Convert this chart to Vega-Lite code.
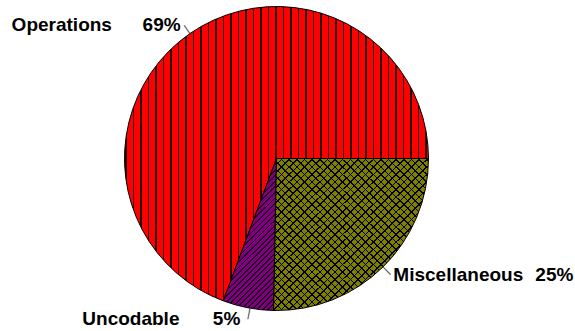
{"$schema":"https://vega.github.io/schema/vega-lite/v6.json","width":553,"height":317,"autosize":"none","padding":{"left":0,"top":0,"right":22,"bottom":14},"background":"white",
"data":{"values":[{"name":"Operations","value":69.3,"pct":"69%"},{"name":"Uncodable","value":5.4,"pct":"5%"},{"name":"Miscellaneous","value":25.3,"pct":"25%"}]},
"layer":[
{"mark":{"type":"arc","outerRadius":152,"stroke":"#000","strokeWidth":1},
"encoding":{"theta":{"field":"value","type":"quantitative","stack":true,"scale":{"range":[3.1604,9.4436]}},"order":{"field":"name","type":"nominal","sort":"descending"},"detail":{"field":"name"},
"fill":{"condition":[{"test":"datum.name==='Operations'","value":{"gradient":"linear","x1":0,"y1":0,"x2":1,"y2":0,"stops":[
{"offset":0.0018,"color":"#f00"},{"offset":0.0018,"color":"#200"},{"offset":0.0068,"color":"#200"},{"offset":0.0068,"color":"#f00"},
{"offset":0.0265,"color":"#f00"},{"offset":0.0265,"color":"#200"},{"offset":0.0315,"color":"#200"},{"offset":0.0315,"color":"#f00"},
{"offset":0.0511,"color":"#f00"},{"offset":0.0511,"color":"#200"},{"offset":0.0561,"color":"#200"},{"offset":0.0561,"color":"#f00"},
{"offset":0.0758,"color":"#f00"},{"offset":0.0758,"color":"#200"},{"offset":0.0808,"color":"#200"},{"offset":0.0808,"color":"#f00"},
{"offset":0.1005,"color":"#f00"},{"offset":0.1005,"color":"#200"},{"offset":0.1055,"color":"#200"},{"offset":0.1055,"color":"#f00"},
{"offset":0.1251,"color":"#f00"},{"offset":0.1251,"color":"#200"},{"offset":0.1301,"color":"#200"},{"offset":0.1301,"color":"#f00"},
{"offset":0.1498,"color":"#f00"},{"offset":0.1498,"color":"#200"},{"offset":0.1548,"color":"#200"},{"offset":0.1548,"color":"#f00"},
{"offset":0.1745,"color":"#f00"},{"offset":0.1745,"color":"#200"},{"offset":0.1795,"color":"#200"},{"offset":0.1795,"color":"#f00"},
{"offset":0.1991,"color":"#f00"},{"offset":0.1991,"color":"#200"},{"offset":0.2041,"color":"#200"},{"offset":0.2041,"color":"#f00"},
{"offset":0.2238,"color":"#f00"},{"offset":0.2238,"color":"#200"},{"offset":0.2288,"color":"#200"},{"offset":0.2288,"color":"#f00"},
{"offset":0.2485,"color":"#f00"},{"offset":0.2485,"color":"#200"},{"offset":0.2535,"color":"#200"},{"offset":0.2535,"color":"#f00"},
{"offset":0.2732,"color":"#f00"},{"offset":0.2732,"color":"#200"},{"offset":0.2782,"color":"#200"},{"offset":0.2782,"color":"#f00"},
{"offset":0.2978,"color":"#f00"},{"offset":0.2978,"color":"#200"},{"offset":0.3028,"color":"#200"},{"offset":0.3028,"color":"#f00"},
{"offset":0.3225,"color":"#f00"},{"offset":0.3225,"color":"#200"},{"offset":0.3275,"color":"#200"},{"offset":0.3275,"color":"#f00"},
{"offset":0.3472,"color":"#f00"},{"offset":0.3472,"color":"#200"},{"offset":0.3522,"color":"#200"},{"offset":0.3522,"color":"#f00"},
{"offset":0.3718,"color":"#f00"},{"offset":0.3718,"color":"#200"},{"offset":0.3768,"color":"#200"},{"offset":0.3768,"color":"#f00"},
{"offset":0.3965,"color":"#f00"},{"offset":0.3965,"color":"#200"},{"offset":0.4015,"color":"#200"},{"offset":0.4015,"color":"#f00"},
{"offset":0.4212,"color":"#f00"},{"offset":0.4212,"color":"#200"},{"offset":0.4262,"color":"#200"},{"offset":0.4262,"color":"#f00"},
{"offset":0.4458,"color":"#f00"},{"offset":0.4458,"color":"#200"},{"offset":0.4508,"color":"#200"},{"offset":0.4508,"color":"#f00"},
{"offset":0.4705,"color":"#f00"},{"offset":0.4705,"color":"#200"},{"offset":0.4755,"color":"#200"},{"offset":0.4755,"color":"#f00"},
{"offset":0.4952,"color":"#f00"},{"offset":0.4952,"color":"#200"},{"offset":0.5002,"color":"#200"},{"offset":0.5002,"color":"#f00"},
{"offset":0.5199,"color":"#f00"},{"offset":0.5199,"color":"#200"},{"offset":0.5249,"color":"#200"},{"offset":0.5249,"color":"#f00"},
{"offset":0.5445,"color":"#f00"},{"offset":0.5445,"color":"#200"},{"offset":0.5495,"color":"#200"},{"offset":0.5495,"color":"#f00"},
{"offset":0.5692,"color":"#f00"},{"offset":0.5692,"color":"#200"},{"offset":0.5742,"color":"#200"},{"offset":0.5742,"color":"#f00"},
{"offset":0.5939,"color":"#f00"},{"offset":0.5939,"color":"#200"},{"offset":0.5989,"color":"#200"},{"offset":0.5989,"color":"#f00"},
{"offset":0.6185,"color":"#f00"},{"offset":0.6185,"color":"#200"},{"offset":0.6235,"color":"#200"},{"offset":0.6235,"color":"#f00"},
{"offset":0.6432,"color":"#f00"},{"offset":0.6432,"color":"#200"},{"offset":0.6482,"color":"#200"},{"offset":0.6482,"color":"#f00"},
{"offset":0.6679,"color":"#f00"},{"offset":0.6679,"color":"#200"},{"offset":0.6729,"color":"#200"},{"offset":0.6729,"color":"#f00"},
{"offset":0.6926,"color":"#f00"},{"offset":0.6926,"color":"#200"},{"offset":0.6976,"color":"#200"},{"offset":0.6976,"color":"#f00"},
{"offset":0.7172,"color":"#f00"},{"offset":0.7172,"color":"#200"},{"offset":0.7222,"color":"#200"},{"offset":0.7222,"color":"#f00"},
{"offset":0.7419,"color":"#f00"},{"offset":0.7419,"color":"#200"},{"offset":0.7469,"color":"#200"},{"offset":0.7469,"color":"#f00"},
{"offset":0.7666,"color":"#f00"},{"offset":0.7666,"color":"#200"},{"offset":0.7716,"color":"#200"},{"offset":0.7716,"color":"#f00"},
{"offset":0.7912,"color":"#f00"},{"offset":0.7912,"color":"#200"},{"offset":0.7962,"color":"#200"},{"offset":0.7962,"color":"#f00"},
{"offset":0.8159,"color":"#f00"},{"offset":0.8159,"color":"#200"},{"offset":0.8209,"color":"#200"},{"offset":0.8209,"color":"#f00"},
{"offset":0.8406,"color":"#f00"},{"offset":0.8406,"color":"#200"},{"offset":0.8456,"color":"#200"},{"offset":0.8456,"color":"#f00"},
{"offset":0.8653,"color":"#f00"},{"offset":0.8653,"color":"#200"},{"offset":0.8703,"color":"#200"},{"offset":0.8703,"color":"#f00"},
{"offset":0.8899,"color":"#f00"},{"offset":0.8899,"color":"#200"},{"offset":0.8949,"color":"#200"},{"offset":0.8949,"color":"#f00"},
{"offset":0.9146,"color":"#f00"},{"offset":0.9146,"color":"#200"},{"offset":0.9196,"color":"#200"},{"offset":0.9196,"color":"#f00"},
{"offset":0.9393,"color":"#f00"},{"offset":0.9393,"color":"#200"},{"offset":0.9443,"color":"#200"},{"offset":0.9443,"color":"#f00"},
{"offset":0.9639,"color":"#f00"},{"offset":0.9639,"color":"#200"},{"offset":0.9689,"color":"#200"},{"offset":0.9689,"color":"#f00"},
{"offset":0.9886,"color":"#f00"},{"offset":0.9886,"color":"#200"},{"offset":0.9936,"color":"#200"},{"offset":0.9936,"color":"#f00"}]}},
{"test":"datum.name==='Uncodable'","value":{"gradient":"linear","x1":0,"y1":0,"x2":0.43,"y2":1.23,"stops":[
{"offset":0.2455,"color":"#800080"},{"offset":0.2455,"color":"#202"},{"offset":0.2545,"color":"#202"},{"offset":0.2545,"color":"#800080"},
{"offset":0.2718,"color":"#800080"},{"offset":0.2718,"color":"#202"},{"offset":0.2808,"color":"#202"},{"offset":0.2808,"color":"#800080"},
{"offset":0.2982,"color":"#800080"},{"offset":0.2982,"color":"#202"},{"offset":0.3072,"color":"#202"},{"offset":0.3072,"color":"#800080"},
{"offset":0.3245,"color":"#800080"},{"offset":0.3245,"color":"#202"},{"offset":0.3335,"color":"#202"},{"offset":0.3335,"color":"#800080"},
{"offset":0.3508,"color":"#800080"},{"offset":0.3508,"color":"#202"},{"offset":0.3598,"color":"#202"},{"offset":0.3598,"color":"#800080"},
{"offset":0.3772,"color":"#800080"},{"offset":0.3772,"color":"#202"},{"offset":0.3862,"color":"#202"},{"offset":0.3862,"color":"#800080"},
{"offset":0.4035,"color":"#800080"},{"offset":0.4035,"color":"#202"},{"offset":0.4125,"color":"#202"},{"offset":0.4125,"color":"#800080"},
{"offset":0.4298,"color":"#800080"},{"offset":0.4298,"color":"#202"},{"offset":0.4388,"color":"#202"},{"offset":0.4388,"color":"#800080"},
{"offset":0.4561,"color":"#800080"},{"offset":0.4561,"color":"#202"},{"offset":0.4651,"color":"#202"},{"offset":0.4651,"color":"#800080"},
{"offset":0.4825,"color":"#800080"},{"offset":0.4825,"color":"#202"},{"offset":0.4915,"color":"#202"},{"offset":0.4915,"color":"#800080"},
{"offset":0.5088,"color":"#800080"},{"offset":0.5088,"color":"#202"},{"offset":0.5178,"color":"#202"},{"offset":0.5178,"color":"#800080"},
{"offset":0.5351,"color":"#800080"},{"offset":0.5351,"color":"#202"},{"offset":0.5441,"color":"#202"},{"offset":0.5441,"color":"#800080"},
{"offset":0.5615,"color":"#800080"},{"offset":0.5615,"color":"#202"},{"offset":0.5705,"color":"#202"},{"offset":0.5705,"color":"#800080"},
{"offset":0.5878,"color":"#800080"},{"offset":0.5878,"color":"#202"},{"offset":0.5968,"color":"#202"},{"offset":0.5968,"color":"#800080"},
{"offset":0.6141,"color":"#800080"},{"offset":0.6141,"color":"#202"},{"offset":0.6231,"color":"#202"},{"offset":0.6231,"color":"#800080"},
{"offset":0.6405,"color":"#800080"},{"offset":0.6405,"color":"#202"},{"offset":0.6495,"color":"#202"},{"offset":0.6495,"color":"#800080"},
{"offset":0.6668,"color":"#800080"},{"offset":0.6668,"color":"#202"},{"offset":0.6758,"color":"#202"},{"offset":0.6758,"color":"#800080"},
{"offset":0.6931,"color":"#800080"},{"offset":0.6931,"color":"#202"},{"offset":0.7021,"color":"#202"},{"offset":0.7021,"color":"#800080"},
{"offset":0.7194,"color":"#800080"},{"offset":0.7194,"color":"#202"},{"offset":0.7284,"color":"#202"},{"offset":0.7284,"color":"#800080"},
{"offset":0.7458,"color":"#800080"},{"offset":0.7458,"color":"#202"},{"offset":0.7548,"color":"#202"},{"offset":0.7548,"color":"#800080"},
{"offset":0.7721,"color":"#800080"},{"offset":0.7721,"color":"#202"},{"offset":0.7811,"color":"#202"},{"offset":0.7811,"color":"#800080"},
{"offset":0.7984,"color":"#800080"},{"offset":0.7984,"color":"#202"},{"offset":0.8074,"color":"#202"},{"offset":0.8074,"color":"#800080"},
{"offset":0.8248,"color":"#800080"},{"offset":0.8248,"color":"#202"},{"offset":0.8338,"color":"#202"},{"offset":0.8338,"color":"#800080"},
{"offset":0.8511,"color":"#800080"},{"offset":0.8511,"color":"#202"},{"offset":0.8601,"color":"#202"},{"offset":0.8601,"color":"#800080"},
{"offset":0.8774,"color":"#800080"},{"offset":0.8774,"color":"#202"},{"offset":0.8864,"color":"#202"},{"offset":0.8864,"color":"#800080"},
{"offset":0.9038,"color":"#800080"},{"offset":0.9038,"color":"#202"},{"offset":0.9128,"color":"#202"},{"offset":0.9128,"color":"#800080"},
{"offset":0.9301,"color":"#800080"},{"offset":0.9301,"color":"#202"},{"offset":0.9391,"color":"#202"},{"offset":0.9391,"color":"#800080"},
{"offset":0.9564,"color":"#800080"},{"offset":0.9564,"color":"#202"},{"offset":0.9654,"color":"#202"},{"offset":0.9654,"color":"#800080"},
{"offset":0.9827,"color":"#800080"},{"offset":0.9827,"color":"#202"},{"offset":0.9917,"color":"#202"},{"offset":0.9917,"color":"#800080"}]}}],
"value":{"gradient":"linear","x1":0,"y1":0,"x2":1,"y2":1,"stops":[
{"offset":0.0018,"color":"#808000"},{"offset":0.0018,"color":"#000"},{"offset":0.0068,"color":"#000"},{"offset":0.0068,"color":"#808000"},
{"offset":0.0265,"color":"#808000"},{"offset":0.0265,"color":"#000"},{"offset":0.0315,"color":"#000"},{"offset":0.0315,"color":"#808000"},
{"offset":0.0511,"color":"#808000"},{"offset":0.0511,"color":"#000"},{"offset":0.0561,"color":"#000"},{"offset":0.0561,"color":"#808000"},
{"offset":0.0758,"color":"#808000"},{"offset":0.0758,"color":"#000"},{"offset":0.0808,"color":"#000"},{"offset":0.0808,"color":"#808000"},
{"offset":0.1005,"color":"#808000"},{"offset":0.1005,"color":"#000"},{"offset":0.1055,"color":"#000"},{"offset":0.1055,"color":"#808000"},
{"offset":0.1251,"color":"#808000"},{"offset":0.1251,"color":"#000"},{"offset":0.1301,"color":"#000"},{"offset":0.1301,"color":"#808000"},
{"offset":0.1498,"color":"#808000"},{"offset":0.1498,"color":"#000"},{"offset":0.1548,"color":"#000"},{"offset":0.1548,"color":"#808000"},
{"offset":0.1745,"color":"#808000"},{"offset":0.1745,"color":"#000"},{"offset":0.1795,"color":"#000"},{"offset":0.1795,"color":"#808000"},
{"offset":0.1991,"color":"#808000"},{"offset":0.1991,"color":"#000"},{"offset":0.2041,"color":"#000"},{"offset":0.2041,"color":"#808000"},
{"offset":0.2238,"color":"#808000"},{"offset":0.2238,"color":"#000"},{"offset":0.2288,"color":"#000"},{"offset":0.2288,"color":"#808000"},
{"offset":0.2485,"color":"#808000"},{"offset":0.2485,"color":"#000"},{"offset":0.2535,"color":"#000"},{"offset":0.2535,"color":"#808000"},
{"offset":0.2732,"color":"#808000"},{"offset":0.2732,"color":"#000"},{"offset":0.2782,"color":"#000"},{"offset":0.2782,"color":"#808000"},
{"offset":0.2978,"color":"#808000"},{"offset":0.2978,"color":"#000"},{"offset":0.3028,"color":"#000"},{"offset":0.3028,"color":"#808000"},
{"offset":0.3225,"color":"#808000"},{"offset":0.3225,"color":"#000"},{"offset":0.3275,"color":"#000"},{"offset":0.3275,"color":"#808000"},
{"offset":0.3472,"color":"#808000"},{"offset":0.3472,"color":"#000"},{"offset":0.3522,"color":"#000"},{"offset":0.3522,"color":"#808000"},
{"offset":0.3718,"color":"#808000"},{"offset":0.3718,"color":"#000"},{"offset":0.3768,"color":"#000"},{"offset":0.3768,"color":"#808000"},
{"offset":0.3965,"color":"#808000"},{"offset":0.3965,"color":"#000"},{"offset":0.4015,"color":"#000"},{"offset":0.4015,"color":"#808000"},
{"offset":0.4212,"color":"#808000"},{"offset":0.4212,"color":"#000"},{"offset":0.4262,"color":"#000"},{"offset":0.4262,"color":"#808000"},
{"offset":0.4458,"color":"#808000"},{"offset":0.4458,"color":"#000"},{"offset":0.4508,"color":"#000"},{"offset":0.4508,"color":"#808000"},
{"offset":0.4705,"color":"#808000"},{"offset":0.4705,"color":"#000"},{"offset":0.4755,"color":"#000"},{"offset":0.4755,"color":"#808000"},
{"offset":0.4952,"color":"#808000"},{"offset":0.4952,"color":"#000"},{"offset":0.5002,"color":"#000"},{"offset":0.5002,"color":"#808000"},
{"offset":0.5199,"color":"#808000"},{"offset":0.5199,"color":"#000"},{"offset":0.5249,"color":"#000"},{"offset":0.5249,"color":"#808000"},
{"offset":0.5445,"color":"#808000"},{"offset":0.5445,"color":"#000"},{"offset":0.5495,"color":"#000"},{"offset":0.5495,"color":"#808000"},
{"offset":0.5692,"color":"#808000"},{"offset":0.5692,"color":"#000"},{"offset":0.5742,"color":"#000"},{"offset":0.5742,"color":"#808000"},
{"offset":0.5939,"color":"#808000"},{"offset":0.5939,"color":"#000"},{"offset":0.5989,"color":"#000"},{"offset":0.5989,"color":"#808000"},
{"offset":0.6185,"color":"#808000"},{"offset":0.6185,"color":"#000"},{"offset":0.6235,"color":"#000"},{"offset":0.6235,"color":"#808000"},
{"offset":0.6432,"color":"#808000"},{"offset":0.6432,"color":"#000"},{"offset":0.6482,"color":"#000"},{"offset":0.6482,"color":"#808000"},
{"offset":0.6679,"color":"#808000"},{"offset":0.6679,"color":"#000"},{"offset":0.6729,"color":"#000"},{"offset":0.6729,"color":"#808000"},
{"offset":0.6926,"color":"#808000"},{"offset":0.6926,"color":"#000"},{"offset":0.6976,"color":"#000"},{"offset":0.6976,"color":"#808000"},
{"offset":0.7172,"color":"#808000"},{"offset":0.7172,"color":"#000"},{"offset":0.7222,"color":"#000"},{"offset":0.7222,"color":"#808000"},
{"offset":0.7419,"color":"#808000"},{"offset":0.7419,"color":"#000"},{"offset":0.7469,"color":"#000"},{"offset":0.7469,"color":"#808000"}]}}}},
{"mark":{"type":"arc","outerRadius":152,"strokeWidth":0},
"encoding":{"theta":{"field":"value","type":"quantitative","stack":true,"scale":{"range":[3.1604,9.4436]}},"order":{"field":"name","type":"nominal","sort":"descending"},"detail":{"field":"name"},
"fill":{"condition":{"test":"datum.name==='Miscellaneous'","value":{"gradient":"linear","x1":0,"y1":1,"x2":1,"y2":0,"stops":[
{"offset":0.0018,"color":"rgba(0,0,0,0)"},{"offset":0.0018,"color":"#000"},{"offset":0.0068,"color":"#000"},{"offset":0.0068,"color":"rgba(0,0,0,0)"},
{"offset":0.0265,"color":"rgba(0,0,0,0)"},{"offset":0.0265,"color":"#000"},{"offset":0.0315,"color":"#000"},{"offset":0.0315,"color":"rgba(0,0,0,0)"},
{"offset":0.0511,"color":"rgba(0,0,0,0)"},{"offset":0.0511,"color":"#000"},{"offset":0.0561,"color":"#000"},{"offset":0.0561,"color":"rgba(0,0,0,0)"},
{"offset":0.0758,"color":"rgba(0,0,0,0)"},{"offset":0.0758,"color":"#000"},{"offset":0.0808,"color":"#000"},{"offset":0.0808,"color":"rgba(0,0,0,0)"},
{"offset":0.1005,"color":"rgba(0,0,0,0)"},{"offset":0.1005,"color":"#000"},{"offset":0.1055,"color":"#000"},{"offset":0.1055,"color":"rgba(0,0,0,0)"},
{"offset":0.1251,"color":"rgba(0,0,0,0)"},{"offset":0.1251,"color":"#000"},{"offset":0.1301,"color":"#000"},{"offset":0.1301,"color":"rgba(0,0,0,0)"},
{"offset":0.1498,"color":"rgba(0,0,0,0)"},{"offset":0.1498,"color":"#000"},{"offset":0.1548,"color":"#000"},{"offset":0.1548,"color":"rgba(0,0,0,0)"},
{"offset":0.1745,"color":"rgba(0,0,0,0)"},{"offset":0.1745,"color":"#000"},{"offset":0.1795,"color":"#000"},{"offset":0.1795,"color":"rgba(0,0,0,0)"},
{"offset":0.1991,"color":"rgba(0,0,0,0)"},{"offset":0.1991,"color":"#000"},{"offset":0.2041,"color":"#000"},{"offset":0.2041,"color":"rgba(0,0,0,0)"},
{"offset":0.2238,"color":"rgba(0,0,0,0)"},{"offset":0.2238,"color":"#000"},{"offset":0.2288,"color":"#000"},{"offset":0.2288,"color":"rgba(0,0,0,0)"},
{"offset":0.2485,"color":"rgba(0,0,0,0)"},{"offset":0.2485,"color":"#000"},{"offset":0.2535,"color":"#000"},{"offset":0.2535,"color":"rgba(0,0,0,0)"},
{"offset":0.2732,"color":"rgba(0,0,0,0)"},{"offset":0.2732,"color":"#000"},{"offset":0.2782,"color":"#000"},{"offset":0.2782,"color":"rgba(0,0,0,0)"},
{"offset":0.2978,"color":"rgba(0,0,0,0)"},{"offset":0.2978,"color":"#000"},{"offset":0.3028,"color":"#000"},{"offset":0.3028,"color":"rgba(0,0,0,0)"},
{"offset":0.3225,"color":"rgba(0,0,0,0)"},{"offset":0.3225,"color":"#000"},{"offset":0.3275,"color":"#000"},{"offset":0.3275,"color":"rgba(0,0,0,0)"},
{"offset":0.3472,"color":"rgba(0,0,0,0)"},{"offset":0.3472,"color":"#000"},{"offset":0.3522,"color":"#000"},{"offset":0.3522,"color":"rgba(0,0,0,0)"},
{"offset":0.3718,"color":"rgba(0,0,0,0)"},{"offset":0.3718,"color":"#000"},{"offset":0.3768,"color":"#000"},{"offset":0.3768,"color":"rgba(0,0,0,0)"},
{"offset":0.3965,"color":"rgba(0,0,0,0)"},{"offset":0.3965,"color":"#000"},{"offset":0.4015,"color":"#000"},{"offset":0.4015,"color":"rgba(0,0,0,0)"},
{"offset":0.4212,"color":"rgba(0,0,0,0)"},{"offset":0.4212,"color":"#000"},{"offset":0.4262,"color":"#000"},{"offset":0.4262,"color":"rgba(0,0,0,0)"},
{"offset":0.4458,"color":"rgba(0,0,0,0)"},{"offset":0.4458,"color":"#000"},{"offset":0.4508,"color":"#000"},{"offset":0.4508,"color":"rgba(0,0,0,0)"},
{"offset":0.4705,"color":"rgba(0,0,0,0)"},{"offset":0.4705,"color":"#000"},{"offset":0.4755,"color":"#000"},{"offset":0.4755,"color":"rgba(0,0,0,0)"},
{"offset":0.4952,"color":"rgba(0,0,0,0)"},{"offset":0.4952,"color":"#000"},{"offset":0.5002,"color":"#000"},{"offset":0.5002,"color":"rgba(0,0,0,0)"},
{"offset":0.5199,"color":"rgba(0,0,0,0)"},{"offset":0.5199,"color":"#000"},{"offset":0.5249,"color":"#000"},{"offset":0.5249,"color":"rgba(0,0,0,0)"},
{"offset":0.5445,"color":"rgba(0,0,0,0)"},{"offset":0.5445,"color":"#000"},{"offset":0.5495,"color":"#000"},{"offset":0.5495,"color":"rgba(0,0,0,0)"},
{"offset":0.5692,"color":"rgba(0,0,0,0)"},{"offset":0.5692,"color":"#000"},{"offset":0.5742,"color":"#000"},{"offset":0.5742,"color":"rgba(0,0,0,0)"},
{"offset":0.5939,"color":"rgba(0,0,0,0)"},{"offset":0.5939,"color":"#000"},{"offset":0.5989,"color":"#000"},{"offset":0.5989,"color":"rgba(0,0,0,0)"},
{"offset":0.6185,"color":"rgba(0,0,0,0)"},{"offset":0.6185,"color":"#000"},{"offset":0.6235,"color":"#000"},{"offset":0.6235,"color":"rgba(0,0,0,0)"},
{"offset":0.6432,"color":"rgba(0,0,0,0)"},{"offset":0.6432,"color":"#000"},{"offset":0.6482,"color":"#000"},{"offset":0.6482,"color":"rgba(0,0,0,0)"},
{"offset":0.6679,"color":"rgba(0,0,0,0)"},{"offset":0.6679,"color":"#000"},{"offset":0.6729,"color":"#000"},{"offset":0.6729,"color":"rgba(0,0,0,0)"},
{"offset":0.6926,"color":"rgba(0,0,0,0)"},{"offset":0.6926,"color":"#000"},{"offset":0.6976,"color":"#000"},{"offset":0.6976,"color":"rgba(0,0,0,0)"},
{"offset":0.7172,"color":"rgba(0,0,0,0)"},{"offset":0.7172,"color":"#000"},{"offset":0.7222,"color":"#000"},{"offset":0.7222,"color":"rgba(0,0,0,0)"},
{"offset":0.7419,"color":"rgba(0,0,0,0)"},{"offset":0.7419,"color":"#000"},{"offset":0.7469,"color":"#000"},{"offset":0.7469,"color":"rgba(0,0,0,0)"},
{"offset":0.7666,"color":"rgba(0,0,0,0)"},{"offset":0.7666,"color":"#000"},{"offset":0.7716,"color":"#000"},{"offset":0.7716,"color":"rgba(0,0,0,0)"},
{"offset":0.7912,"color":"rgba(0,0,0,0)"},{"offset":0.7912,"color":"#000"},{"offset":0.7962,"color":"#000"},{"offset":0.7962,"color":"rgba(0,0,0,0)"},
{"offset":0.8159,"color":"rgba(0,0,0,0)"},{"offset":0.8159,"color":"#000"},{"offset":0.8209,"color":"#000"},{"offset":0.8209,"color":"rgba(0,0,0,0)"},
{"offset":0.8406,"color":"rgba(0,0,0,0)"},{"offset":0.8406,"color":"#000"},{"offset":0.8456,"color":"#000"},{"offset":0.8456,"color":"rgba(0,0,0,0)"},
{"offset":0.8653,"color":"rgba(0,0,0,0)"},{"offset":0.8653,"color":"#000"},{"offset":0.8703,"color":"#000"},{"offset":0.8703,"color":"rgba(0,0,0,0)"},
{"offset":0.8899,"color":"rgba(0,0,0,0)"},{"offset":0.8899,"color":"#000"},{"offset":0.8949,"color":"#000"},{"offset":0.8949,"color":"rgba(0,0,0,0)"},
{"offset":0.9146,"color":"rgba(0,0,0,0)"},{"offset":0.9146,"color":"#000"},{"offset":0.9196,"color":"#000"},{"offset":0.9196,"color":"rgba(0,0,0,0)"},
{"offset":0.9393,"color":"rgba(0,0,0,0)"},{"offset":0.9393,"color":"#000"},{"offset":0.9443,"color":"#000"},{"offset":0.9443,"color":"rgba(0,0,0,0)"},
{"offset":0.9639,"color":"rgba(0,0,0,0)"},{"offset":0.9639,"color":"#000"},{"offset":0.9689,"color":"#000"},{"offset":0.9689,"color":"rgba(0,0,0,0)"},
{"offset":0.9886,"color":"rgba(0,0,0,0)"},{"offset":0.9886,"color":"#000"},{"offset":0.9936,"color":"#000"},{"offset":0.9936,"color":"rgba(0,0,0,0)"}]}},
"value":"rgba(0,0,0,0)"}}},
{"mark":{"type":"text","text":"|","radius":157.5,"angle":325,"align":"center","baseline":"middle","font":"Liberation Sans","fontSize":12,"fill":"#444"},
"encoding":{"theta":{"field":"value","type":"quantitative","stack":true,"scale":{"range":[3.1604,9.4436]}},"order":{"field":"name","type":"nominal","sort":"descending"},"detail":{"field":"name"},"opacity":{"condition":{"test":"datum.name==='Operations'","value":1},"value":0}}},
{"mark":{"type":"text","radius":163,"align":"left","baseline":"alphabetic","dx":-172,"dy":6,"font":"Liberation Sans","fontSize":19,"fontWeight":"bold","fill":"#000"},
"encoding":{"theta":{"field":"value","type":"quantitative","stack":true,"scale":{"range":[3.1604,9.4436]}},"order":{"field":"name","type":"nominal","sort":"descending"},"detail":{"field":"name"},"text":{"field":"name"},"opacity":{"condition":{"test":"datum.name==='Operations'","value":1},"value":0}}},
{"mark":{"type":"text","radius":163,"align":"right","baseline":"alphabetic","dx":-3,"dy":6,"font":"Liberation Sans","fontSize":19,"fontWeight":"bold","fill":"#000"},
"encoding":{"theta":{"field":"value","type":"quantitative","stack":true,"scale":{"range":[3.1604,9.4436]}},"order":{"field":"name","type":"nominal","sort":"descending"},"detail":{"field":"name"},"text":{"field":"pct"},"opacity":{"condition":{"test":"datum.name==='Operations'","value":1},"value":0}}},
{"mark":{"type":"text","text":"|","radius":155.5,"angle":191,"dx":-2,"dy":-3,"align":"center","baseline":"middle","font":"Liberation Sans","fontSize":12,"fill":"#444"},
"encoding":{"theta":{"field":"value","type":"quantitative","stack":true,"scale":{"range":[3.1604,9.4436]}},"order":{"field":"name","type":"nominal","sort":"descending"},"detail":{"field":"name"},"opacity":{"condition":{"test":"datum.name==='Uncodable'","value":1},"value":0}}},
{"mark":{"type":"text","radius":161,"align":"left","baseline":"alphabetic","dx":-164,"dy":8,"font":"Liberation Sans","fontSize":19,"fontWeight":"bold","fill":"#000"},
"encoding":{"theta":{"field":"value","type":"quantitative","stack":true,"scale":{"range":[3.1604,9.4436]}},"order":{"field":"name","type":"nominal","sort":"descending"},"detail":{"field":"name"},"text":{"field":"name"},"opacity":{"condition":{"test":"datum.name==='Uncodable'","value":1},"value":0}}},
{"mark":{"type":"text","radius":161,"align":"right","baseline":"alphabetic","dx":-6,"dy":8,"font":"Liberation Sans","fontSize":19,"fontWeight":"bold","fill":"#000"},
"encoding":{"theta":{"field":"value","type":"quantitative","stack":true,"scale":{"range":[3.1604,9.4436]}},"order":{"field":"name","type":"nominal","sort":"descending"},"detail":{"field":"name"},"text":{"field":"pct"},"opacity":{"condition":{"test":"datum.name==='Uncodable'","value":1},"value":0}}},
{"mark":{"type":"text","text":"|","radius":158,"angle":135.5,"align":"center","baseline":"middle","font":"Liberation Sans","fontSize":12,"fill":"#444"},
"encoding":{"theta":{"field":"value","type":"quantitative","stack":true,"scale":{"range":[3.1604,9.4436]}},"order":{"field":"name","type":"nominal","sort":"descending"},"detail":{"field":"name"},"opacity":{"condition":{"test":"datum.name==='Miscellaneous'","value":1},"value":0}}},
{"mark":{"type":"text","radius":164,"align":"left","baseline":"alphabetic","dx":2,"dy":5,"font":"Liberation Sans","fontSize":19,"fontWeight":"bold","fill":"#000"},
"encoding":{"theta":{"field":"value","type":"quantitative","stack":true,"scale":{"range":[3.1604,9.4436]}},"order":{"field":"name","type":"nominal","sort":"descending"},"detail":{"field":"name"},"text":{"field":"name"},"opacity":{"condition":{"test":"datum.name==='Miscellaneous'","value":1},"value":0}}},
{"mark":{"type":"text","radius":164,"align":"right","baseline":"alphabetic","dx":182,"dy":5,"font":"Liberation Sans","fontSize":19,"fontWeight":"bold","fill":"#000"},
"encoding":{"theta":{"field":"value","type":"quantitative","stack":true,"scale":{"range":[3.1604,9.4436]}},"order":{"field":"name","type":"nominal","sort":"descending"},"detail":{"field":"name"},"text":{"field":"pct"},"opacity":{"condition":{"test":"datum.name==='Miscellaneous'","value":1},"value":0}}}
],
"config":{"view":{"stroke":null}}}
